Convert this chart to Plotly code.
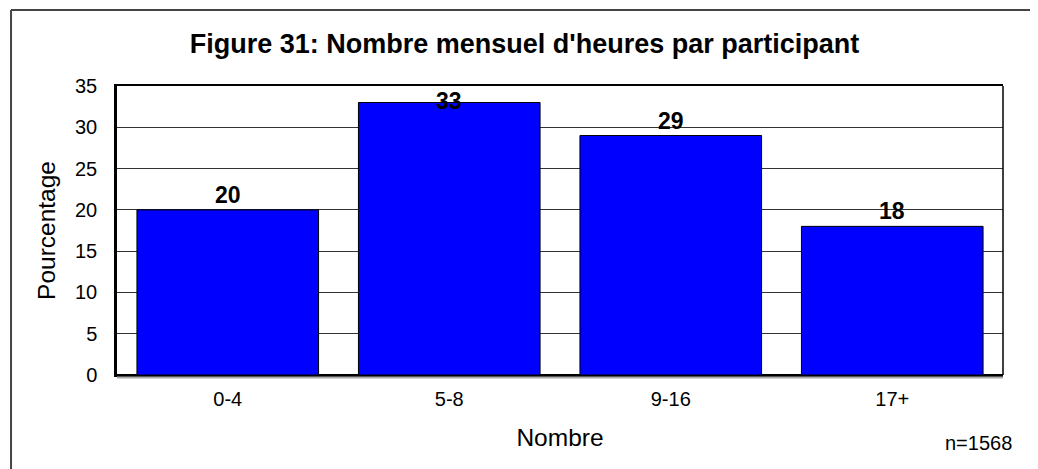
import plotly.graph_objects as go

categories = ["0-4", "5-8", "9-16", "17+"]
values = [20, 33, 29, 18]
y_ticks = [0, 5, 10, 15, 20, 25, 30, 35]
title_text = "Figure 31: Nombre mensuel d'heures par participant"
x_title = "Nombre"
y_title = "Pourcentage"
note_text = "n=1568"

FONT = "Arial, 'Liberation Sans', sans-serif"
YMAX = 35
OFF = 8  # page body margin
W, H = 1038 - OFF, 469 - OFF

fig = go.Figure()
fig.add_trace(go.Bar(
    x=categories, y=values,
    marker=dict(color="#0000FF", line=dict(color="#000000", width=1)),
    width=0.82,
    hoverinfo="skip",
))

annotations = []
for c, v in zip(categories, values):
    if v + 3 > YMAX:
        annotations.append(dict(x=c, y=YMAX, xref="x", yref="y", text=f"<b>{v}</b>",
                                showarrow=False, yanchor="top", yshift=0,
                                font=dict(family=FONT, size=23, color="#000")))
    else:
        annotations.append(dict(x=c, y=v, xref="x", yref="y", text=f"<b>{v}</b>",
                                showarrow=False, yanchor="bottom", yshift=0,
                                font=dict(family=FONT, size=23, color="#000")))

annotations.append(dict(x=1.012, y=-0.235, xref="paper", yref="paper", text=note_text,
                        showarrow=False, xanchor="right", yanchor="middle",
                        font=dict(family=FONT, size=20, color="#000")))

shapes = [
    # outer frame (left and top edges visible)
    dict(type="line", xref="paper", yref="paper", x0=-0.1196, x1=-0.1196, y0=1.263, y1=-0.5,
         line=dict(color="#444444", width=2)),
    dict(type="line", xref="paper", yref="paper", x0=-0.1196, x1=1.1, y0=1.263, y1=1.263,
         line=dict(color="#444444", width=2)),
    # right edge of plot
    dict(type="line", xref="paper", yref="paper", x0=1, x1=1, y0=0, y1=1,
         line=dict(color="#000000", width=1.5)),
    # bottom shadow
    dict(type="line", xref="paper", yref="paper", x0=0, x1=1, y0=-0.009, y1=-0.009,
         line=dict(color="#AAAAAA", width=2)),
]

fig.update_layout(
    width=W, height=H,
    margin=dict(l=117 - OFF, r=35, t=86 - OFF, b=94),
    paper_bgcolor="white", plot_bgcolor="white",
    showlegend=False,
    bargap=0.18,
    title=dict(text=f"<b>{title_text}</b>", x=(524.5 - OFF) / W, xanchor="center",
               y=1 - (44 - OFF) / H, yanchor="middle",
               font=dict(family=FONT, size=27, color="#000")),
    xaxis=dict(
        tickvals=categories, ticktext=categories,
        showline=True, linecolor="#000", linewidth=2, mirror=True,
        showgrid=False, ticks="", ticklabelstandoff=5,
        tickfont=dict(family=FONT, size=20, color="#000"),
        title=dict(text=x_title, font=dict(family=FONT, size=24.5, color="#000"), standoff=20),
        fixedrange=True,
    ),
    yaxis=dict(
        range=[0, YMAX], tickvals=y_ticks, ticktext=[str(t) for t in y_ticks],
        showline=True, linecolor="#000", linewidth=2.5, mirror=False,
        showgrid=True, gridcolor="#333333", gridwidth=1,
        zeroline=True, zerolinecolor="#000", zerolinewidth=2,
        ticks="", ticklabelstandoff=13,
        tickfont=dict(family=FONT, size=20, color="#000"),
        title=dict(text=y_title, font=dict(family=FONT, size=24.5, color="#000"), standoff=13),
        fixedrange=True,
    ),
    annotations=annotations,
    shapes=shapes,
    font=dict(family=FONT),
)

fig.write_html("out.html")
